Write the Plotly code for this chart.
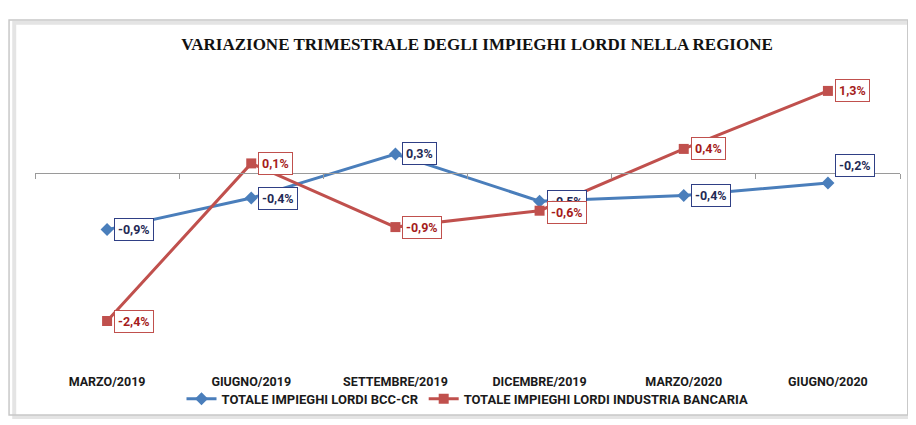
import plotly.graph_objects as go

categories = ["MARZO/2019", "GIUGNO/2019", "SETTEMBRE/2019", "DICEMBRE/2019", "MARZO/2020", "GIUGNO/2020"]
bcc_values = [-0.9, -0.4, 0.3, -0.45, -0.36, -0.16]
bcc_labels = ["-0,9%", "-0,4%", "0,3%", "-0,5%", "-0,4%", "-0,2%"]
bank_values = [-2.35, 0.15, -0.86, -0.6, 0.38, 1.3]
bank_labels = ["-2,4%", "0,1%", "-0,9%", "-0,6%", "0,4%", "1,3%"]
series_names = ["TOTALE IMPIEGHI LORDI BCC-CR", "TOTALE IMPIEGHI LORDI INDUSTRIA BANCARIA"]
title_text = "VARIAZIONE TRIMESTRALE DEGLI IMPIEGHI LORDI NELLA REGIONE"

BLUE = "#4A7EBB"
RED = "#C0504D"
BLUE_TXT = "#1F2A55"
BLUE_BORDER = "#2F3F85"
RED_TXT = "#A51C1C"
NARROW = "Liberation Sans Narrow, Arial Narrow, Roboto, sans-serif"

YMIN, YMAX = -3.0, 1.6
xi = list(range(len(categories)))

fig = go.Figure()
fig.add_trace(go.Scatter(
    x=xi, y=bcc_values, mode="lines+markers", name=series_names[0],
    line=dict(color=BLUE, width=3),
    marker=dict(symbol="diamond", size=10, color=BLUE),
))
fig.add_trace(go.Scatter(
    x=xi, y=bank_values, mode="lines+markers", name=series_names[1],
    line=dict(color=RED, width=3),
    marker=dict(symbol="square", size=10, color=RED),
))
# invisible trace to bind the zero-crossing axis
fig.add_trace(go.Scatter(x=[0], y=[None], xaxis="x2", showlegend=False, hoverinfo="skip"))

annotations = []
for i, (v, t) in enumerate(zip(bcc_values, bcc_labels)):
    yshift = 17 if i == len(categories) - 1 else 0
    annotations.append(dict(
        x=i, y=v, text=t, showarrow=False, xanchor="left", yanchor="middle",
        xshift=7, yshift=yshift,
        font=dict(family=NARROW, size=12.5, color=BLUE_TXT, weight="bold"),
        bgcolor="white", bordercolor=BLUE_BORDER, borderwidth=1, borderpad=3,
    ))
for i, (v, t) in enumerate(zip(bank_values, bank_labels)):
    annotations.append(dict(
        x=i, y=v, text=t, showarrow=False, xanchor="left", yanchor="middle",
        xshift=7, yshift=-2 if i == 3 else 0,
        font=dict(family=NARROW, size=12.5, color=RED_TXT, weight="bold"),
        bgcolor="white", bordercolor=RED, borderwidth=1, borderpad=3,
    ))

zero_pos = (0 - YMIN) / (YMAX - YMIN)

fig.update_layout(
    width=916, height=425,
    margin=dict(l=27, r=24, t=64, b=71),
    paper_bgcolor="white", plot_bgcolor="white",
    title=dict(text=title_text, x=0.512, xanchor="center", y=0.915, yanchor="middle",
               font=dict(family="Liberation Serif, DejaVu Serif, serif", size=17,
                         color="#111111", weight="bold")),
    xaxis=dict(range=[-0.5, len(categories) - 0.5], tickvals=xi, ticktext=categories,
               showline=False, showgrid=False, zeroline=False, ticks="",
               ticklabelstandoff=10,
               tickfont=dict(family=NARROW, size=12.5, color="#1A1A1A", weight="bold")),
    xaxis2=dict(overlaying="x", anchor="free", position=zero_pos,
                range=[-0.5, len(categories) - 0.5],
                tickvals=[k - 0.5 for k in range(len(categories) + 1)],
                showticklabels=False, ticks="outside", ticklen=5, tickcolor="#9A9A9A",
                showline=True, linecolor="#9A9A9A", linewidth=1,
                showgrid=False, zeroline=False),
    yaxis=dict(range=[YMIN, YMAX], showticklabels=False, showgrid=False,
               zeroline=False, showline=False, ticks=""),
    legend=dict(orientation="h", x=0.5, xanchor="center", y=-0.075, yanchor="top",
                font=dict(family=NARROW, size=13, color="#1A1A1A", weight="bold"),
                itemwidth=30, tracegroupgap=0, bgcolor="rgba(0,0,0,0)"),
    annotations=annotations,
    shapes=[
        dict(type="rect", xref="paper", yref="paper", x0=-0.024, x1=1.014, y0=-0.19, y1=1.17,
             line=dict(color="#E4E4E4", width=4), fillcolor="rgba(0,0,0,0)", layer="below"),
        dict(type="rect", xref="paper", yref="paper", x0=-0.030, x1=1.009, y0=-0.183, y1=1.179,
             line=dict(color="#C8C8C8", width=1.5), fillcolor="rgba(0,0,0,0)", layer="below"),
    ],
)

fig.write_html("out.html")
